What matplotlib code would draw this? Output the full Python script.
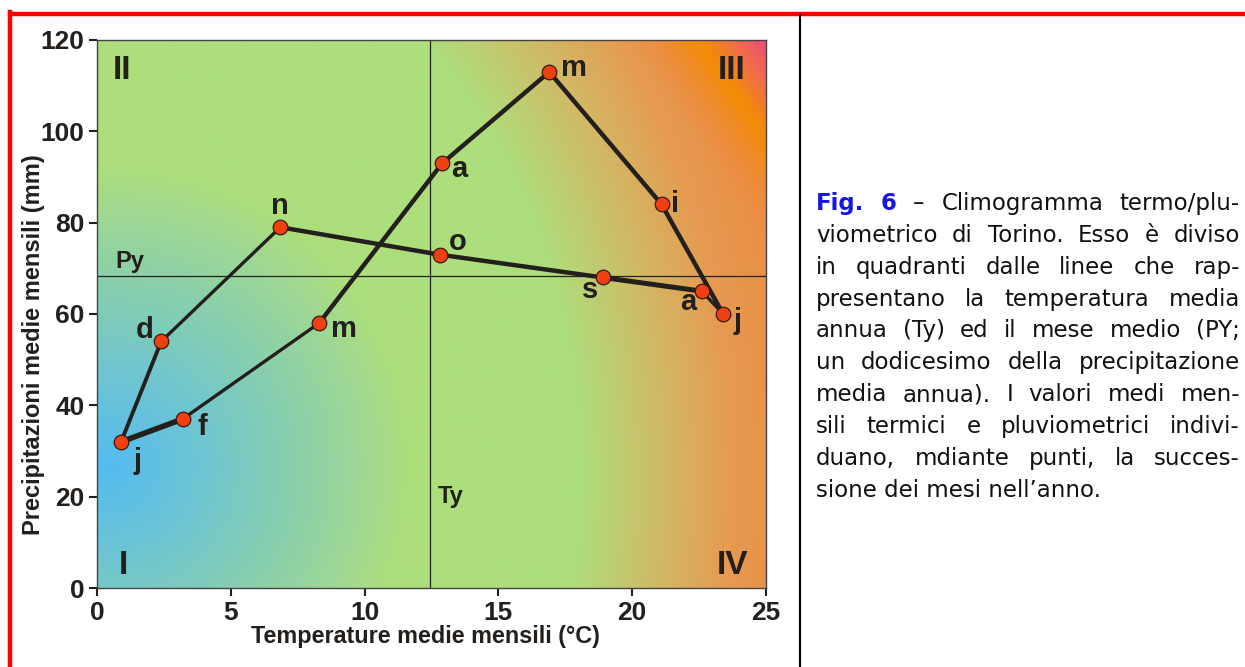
import matplotlib
matplotlib.use('Agg')
import matplotlib.pyplot as plt
import numpy as np
from matplotlib.colors import LinearSegmentedColormap
from matplotlib.lines import Line2D

# monthly means, Torino
temp = [0.9, 3.2, 8.3, 12.9, 16.9, 21.1, 23.4, 22.6, 18.9, 12.8, 6.85, 2.4]
prec = [32, 37, 58, 93, 113, 84, 60, 65, 68, 73, 79, 54]
month_labels = ['j', 'f', 'm', 'a', 'm', 'i', 'j', 'a', 's', 'o', 'n', 'd']
ty = 12.45
py = 68.3
x_ticks = [0, 5, 10, 15, 20, 25]
y_ticks = [0, 20, 40, 60, 80, 100, 120]
quadrants = ['I', 'II', 'III', 'IV']

caption_lines = [
    ['Fig.', '6', '–', 'Climogramma', 'termo/plu-'],
    ['viometrico', 'di', 'Torino.', 'Esso', 'è', 'diviso'],
    ['in', 'quadranti', 'dalle', 'linee', 'che', 'rap-'],
    ['presentano', 'la', 'temperatura', 'media'],
    ['annua', '(Ty)', 'ed', 'il', 'mese', 'medio', '(PY;'],
    ['un', 'dodicesimo', 'della', 'precipitazione'],
    ['media', 'annua).', 'I', 'valori', 'medi', 'men-'],
    ['sili', 'termici', 'e', 'pluviometrici', 'indivi-'],
    ['duano,', 'mdiante', 'punti,', 'la', 'succes-'],
    ['sione', 'dei', 'mesi', 'nell’anno.'],
]

W, H = 1245, 667
INK = '#231F1C'
fig = plt.figure(figsize=(W / 100, H / 100), dpi=100)
fig.patch.set_facecolor('white')
ax = fig.add_axes([97 / W, 1 - 588 / H, 669 / W, 548 / H])

# background gradient: cold blue blob bottom-left, green middle, warm right
gx = np.linspace(0, 25, 500)
gy = np.linspace(0, 120, 400)
X, Y = np.meshgrid(gx, gy)
u = X / 25
v = Y / 120
r = np.sqrt(((X - 0.5) * 26.72) ** 2 + ((Y - 26.5) * 4.567) ** 2) / 300
cold_cmap = LinearSegmentedColormap.from_list('cold', [
    (0.0, '#55BCF0'), (0.3, '#6EC5D2'), (0.6, '#88CFAE'),
    (0.85, '#A0D893'), (1.0, '#ADDE7C')])
cold = cold_cmap(np.clip(r, 0, 1))[..., :3]
s = np.sqrt(u ** 2 + ((v - 0.2) / 1.5) ** 2)
warm_cmap = LinearSegmentedColormap.from_list('warm', [
    (0.0, '#ADDE7C'), (0.13 / 0.38, '#D2B865'),
    (0.23 / 0.38, '#E69A50'), (1.0, '#EE8842')])
warm = warm_cmap(np.clip((s - 0.72) / 0.38, 0, 1))[..., :3]
base = np.where((s < 0.72)[..., None], cold, warm)
band_cmap = LinearSegmentedColormap.from_list('band', [
    (0.0, '#EE8540'), (0.5, '#F38C05'), (0.75, '#F06A50'), (1.0, '#EC4580')])
t = u + 0.57 * v
w = np.clip((t - 1.36) / 0.1, 0, 1)[..., None]
band = band_cmap(np.clip((t - 1.36) / 0.22, 0, 1))[..., :3]
img = base * (1 - w) + band * w
ax.imshow(img, extent=[0, 25, 0, 120], origin='lower', aspect='auto', zorder=0,
          interpolation='bilinear')

ax.axvline(ty, color='#222222', lw=0.9, zorder=1)
ax.axhline(py, color='#222222', lw=0.9, zorder=1)

# closed loop, segment widths vary like the original drawing
seg_w = [5, 3, 4, 4, 4, 4, 3, 4.5, 4, 4, 3, 3.5]
n = len(temp)
for i in range(n):
    j = (i + 1) % n
    ax.plot([temp[i], temp[j]], [prec[i], prec[j]], color=INK,
            lw=seg_w[i] * 0.8, solid_capstyle='round', zorder=2)
ax.plot(temp, prec, 'o', ms=10.5, mfc='#EE4010', mec='#3A1A10', mew=0.9, zorder=3)

bold = dict(fontweight='bold', family='Liberation Sans', fontstretch='normal',
            color=INK)
offsets = [(12, -14), (14, -6), (18, -4), (12, -4), (18, 3), (10, 0),
           (10, -5), (-10, -8), (-9, -9), (13, 9), (0, 15), (-12, 8)]
for x, y, lab, off in zip(temp, prec, month_labels, offsets):
    ax.annotate(lab, (x, y), xytext=off, textcoords='offset points',
                ha='center', va='center', fontsize=21, zorder=4, **bold)

ax.text(0.7, py + 3.2, 'Py', fontsize=17, va='center', ha='left', **bold)
ax.text(ty + 0.3, 20, 'Ty', fontsize=17, va='center', ha='left', **bold)

qpos = [(0.032, 0.012, 'left', 'bottom'), (0.024, 0.973, 'left', 'top'),
        (0.969, 0.973, 'right', 'top'), (0.973, 0.012, 'right', 'bottom')]
for q, (qx, qy, ha, va) in zip(quadrants, qpos):
    ax.text(qx, qy, q, transform=ax.transAxes, fontsize=24, ha=ha, va=va, **bold)

ax.set_xlim(0, 25)
ax.set_ylim(0, 120)
ax.set_xticks(x_ticks)
ax.set_yticks(y_ticks)
ax.tick_params(length=6, width=1.5, color=INK, labelsize=19, pad=3)
for lab in ax.get_xticklabels() + ax.get_yticklabels():
    lab.set_fontweight('bold')
    lab.set_family('Liberation Sans')
    lab.set_fontstretch('normal')
    lab.set_color(INK)
for sp in ax.spines.values():
    sp.set_color('#444444')
    sp.set_linewidth(1.0)

fig.text(425 / W, 1 - 637 / H, 'Temperature medie mensili (°C)', ha='center',
         va='center', fontsize=16.8, **bold)
fig.text(34 / W, 1 - 345 / H, 'Precipitazioni medie mensili (mm)', ha='center',
         va='center', rotation=90, fontsize=17, **bold)

# frame and separator
fig.add_artist(Line2D([10 / W, 1], [1 - 13.5 / H] * 2, color='#FF0000', lw=3.2,
                      transform=fig.transFigure))
fig.add_artist(Line2D([10 / W] * 2, [0, 1 - 12 / H], color='#FF0000', lw=3.2,
                      transform=fig.transFigure))
fig.add_artist(Line2D([800 / W] * 2, [0, 1 - 15 / H], color='black', lw=1.5,
                      transform=fig.transFigure))

# justified caption
renderer = fig.canvas.get_renderer()
x0, x1 = 816, 1240
base_y = 210
line_h = 31.85
cap_font = dict(fontsize=16.5, family='DejaVu Sans', fontstretch='normal',
                va='baseline', ha='left')
for k, words in enumerate(caption_lines):
    yy = 1 - (base_y + k * line_h) / H
    if k == len(caption_lines) - 1:
        fig.text(x0 / W, yy, ' '.join(words), color='#111111', **cap_font)
        continue
    texts = []
    for wi, word in enumerate(words):
        if k == 0 and wi < 2:
            tt = fig.text(0, yy, word, color='#1515E8', fontweight='bold', **cap_font)
        else:
            tt = fig.text(0, yy, word, color='#111111', **cap_font)
        texts.append(tt)
    widths = [tt.get_window_extent(renderer).width for tt in texts]
    gap = (x1 - x0 - sum(widths)) / (len(texts) - 1)
    xx = x0
    for tt, wd in zip(texts, widths):
        tt.set_x(xx / W)
        xx += wd + gap

fig.savefig('out.png', dpi=100)
